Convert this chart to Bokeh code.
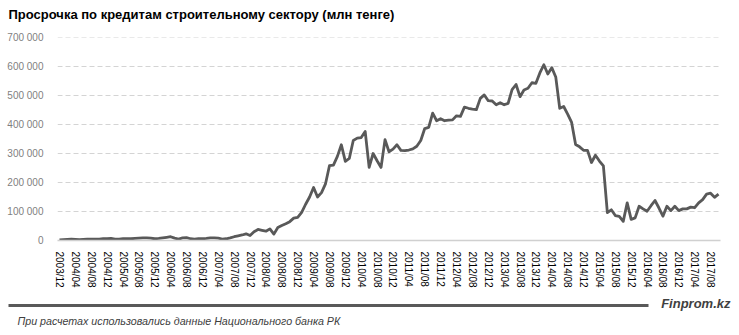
import numpy as np
import pandas as pd
from bokeh.plotting import figure
from bokeh.layouts import column
from bokeh.models import Range1d, FixedTicker, ColumnDataSource
from bokeh.core.properties import value
from bokeh.embed import file_html
from bokeh.resources import INLINE

# ---- data ----
months = [d.strftime("%Y/%m") for d in pd.date_range("2003-12-01", periods=167, freq="MS")]

overdue = [
    2000, 3000, 4000, 5000, 4000, 3000, 4000, 5000, 5000, 5000,
    5000, 6000, 6000, 7000, 5000, 5000, 6000, 6000, 6000, 7000,
    8000, 9000, 9000, 8000, 6000, 7000, 9000, 11000, 13000, 8000,
    5000, 9000, 10000, 6000, 5000, 6000, 6000, 7000, 9000, 9000,
    8000, 5000, 6000, 9000, 13000, 16000, 19000, 23000, 17000, 30000,
    38000, 35000, 32000, 40000, 22000, 45000, 52000, 58000, 65000, 77000,
    80000, 97000, 125000, 150000, 183000, 150000, 165000, 195000, 258000, 260000,
    290000, 330000, 273000, 283000, 345000, 353000, 355000, 376000, 252000, 300000,
    275000, 252000, 348000, 306000, 315000, 330000, 311000, 310000, 312000, 316000,
    325000, 345000, 386000, 390000, 439000, 413000, 420000, 413000, 415000, 416000,
    430000, 428000, 460000, 456000, 453000, 451000, 490000, 502000, 482000, 481000,
    468000, 475000, 468000, 473000, 520000, 538000, 496000, 519000, 525000, 544000,
    542000, 578000, 606000, 574000, 596000, 564000, 456000, 462000, 436000, 407000,
    331000, 323000, 311000, 311000, 269000, 294000, 274000, 257000, 96000, 106000,
    86000, 83000, 66000, 130000, 73000, 78000, 118000, 109000, 101000, 120000,
    138000, 112000, 84000, 118000, 103000, 118000, 103000, 109000, 109000, 115000,
    113000, 130000, 141000, 160000, 163000, 149000, 160000,
]

y_ticks = [0, 100000, 200000, 300000, 400000, 500000, 600000, 700000]
y_tick_labels = ["0", "100 000", "200 000", "300 000", "400 000", "500 000", "600 000", "700 000"]

title_text = "Просрочка по кредитам строительному  сектору (млн  тенге)"
source_text = "При расчетах использовались данные Национального  банка РК"
brand_text = "Finprom.kz"


def blank(height):
    f = figure(width=739, height=height, x_range=Range1d(0, 739), y_range=Range1d(height, 0),
               output_backend="svg", toolbar_location=None,
               x_axis_location=None, y_axis_location=None,
               min_border_left=0, min_border_right=0, min_border_top=0, min_border_bottom=0)
    f.grid.visible = False
    f.outline_line_color = None
    f.background_fill_color = "white"
    f.border_fill_color = "white"
    f.frame_align = False
    return f


# ---- header ----
h = blank(27)
h.text(x=[8], y=[14], text=[title_text], text_font=value("Liberation Sans"),
       text_font_style="bold", text_font_size="13px", text_color="#000000",
       text_align="left", text_baseline="middle")

# ---- chart ----
idx = list(range(len(months)))
src = ColumnDataSource(dict(x=idx, y=overdue, m=months))

x_lo, x_hi = -0.5, len(months) - 0.5
frame_w = 663
p = figure(width=739, height=263, x_range=Range1d(x_lo, x_hi),
           y_range=Range1d(0, 700000), output_backend="svg", toolbar_location=None,
           min_border_left=57, min_border_right=19, min_border_top=10, min_border_bottom=48)
p.frame_align = False
p.outline_line_color = None
p.background_fill_color = "white"
p.border_fill_color = "white"
p.grid.visible = False

# dashed horizontal gridlines, built as short segments (5 px dash, 3 px gap)
unit = (x_hi - x_lo) / frame_w
starts = np.arange(x_lo, x_hi, 8 * unit)
ends = np.minimum(starts + 5 * unit, x_hi)
gx0, gx1, gy = [], [], []
for t in y_ticks[1:]:
    gx0.extend(starts.tolist())
    gx1.extend(ends.tolist())
    gy.extend([t] * len(starts))
p.segment(x0=gx0, y0=gy, x1=gx1, y1=gy, line_color="#d4d4d4", line_width=1, level="underlay")

p.line("x", "y", source=src, line_color="#595959", line_width=2.8, line_join="round")

# y axis
p.yaxis.ticker = FixedTicker(ticks=y_ticks)
p.yaxis.major_label_overrides = {t: l for t, l in zip(y_ticks, y_tick_labels)}
p.yaxis.axis_line_color = None
p.yaxis.major_tick_line_color = None
p.yaxis.minor_tick_line_color = None
p.yaxis.major_label_text_color = "#7f7f7f"
p.yaxis.major_label_text_font = "Liberation Sans"
p.yaxis.major_label_text_font_size = "10px"
p.yaxis.major_label_standoff = 8

# x axis
x_ticks = idx[::4]
p.xaxis.ticker = FixedTicker(ticks=x_ticks)
p.xaxis.major_label_overrides = {i: months[i] for i in x_ticks}
p.xaxis.major_label_orientation = "vertical"
p.xaxis.axis_line_color = "#d0d0d0"
p.xaxis.axis_line_width = 1.5
p.xaxis.major_tick_line_color = None
p.xaxis.minor_tick_line_color = None
p.xaxis.major_label_text_color = "#000000"
p.xaxis.major_label_text_font = "Liberation Sans"
p.xaxis.major_label_text_font_size = "10px"
p.xaxis.major_label_standoff = 5

# ---- footer ----
f = blank(45)
f.segment(x0=[8], y0=[15], x1=[648], y1=[15], line_color="#595959", line_width=3)
f.text(x=[730], y=[13], text=[brand_text], text_font=value("Liberation Sans"),
       text_font_style="bold italic", text_font_size="13px", text_color="#404040",
       text_align="right", text_baseline="middle")
f.text(x=[17], y=[30], text=[source_text], text_font=value("Liberation Sans"),
       text_font_style="italic", text_font_size="10.7px", text_color="#404040",
       text_align="left", text_baseline="middle")

layout = column(h, p, f, spacing=0)
open("out.html", "w").write(file_html(layout, INLINE))
